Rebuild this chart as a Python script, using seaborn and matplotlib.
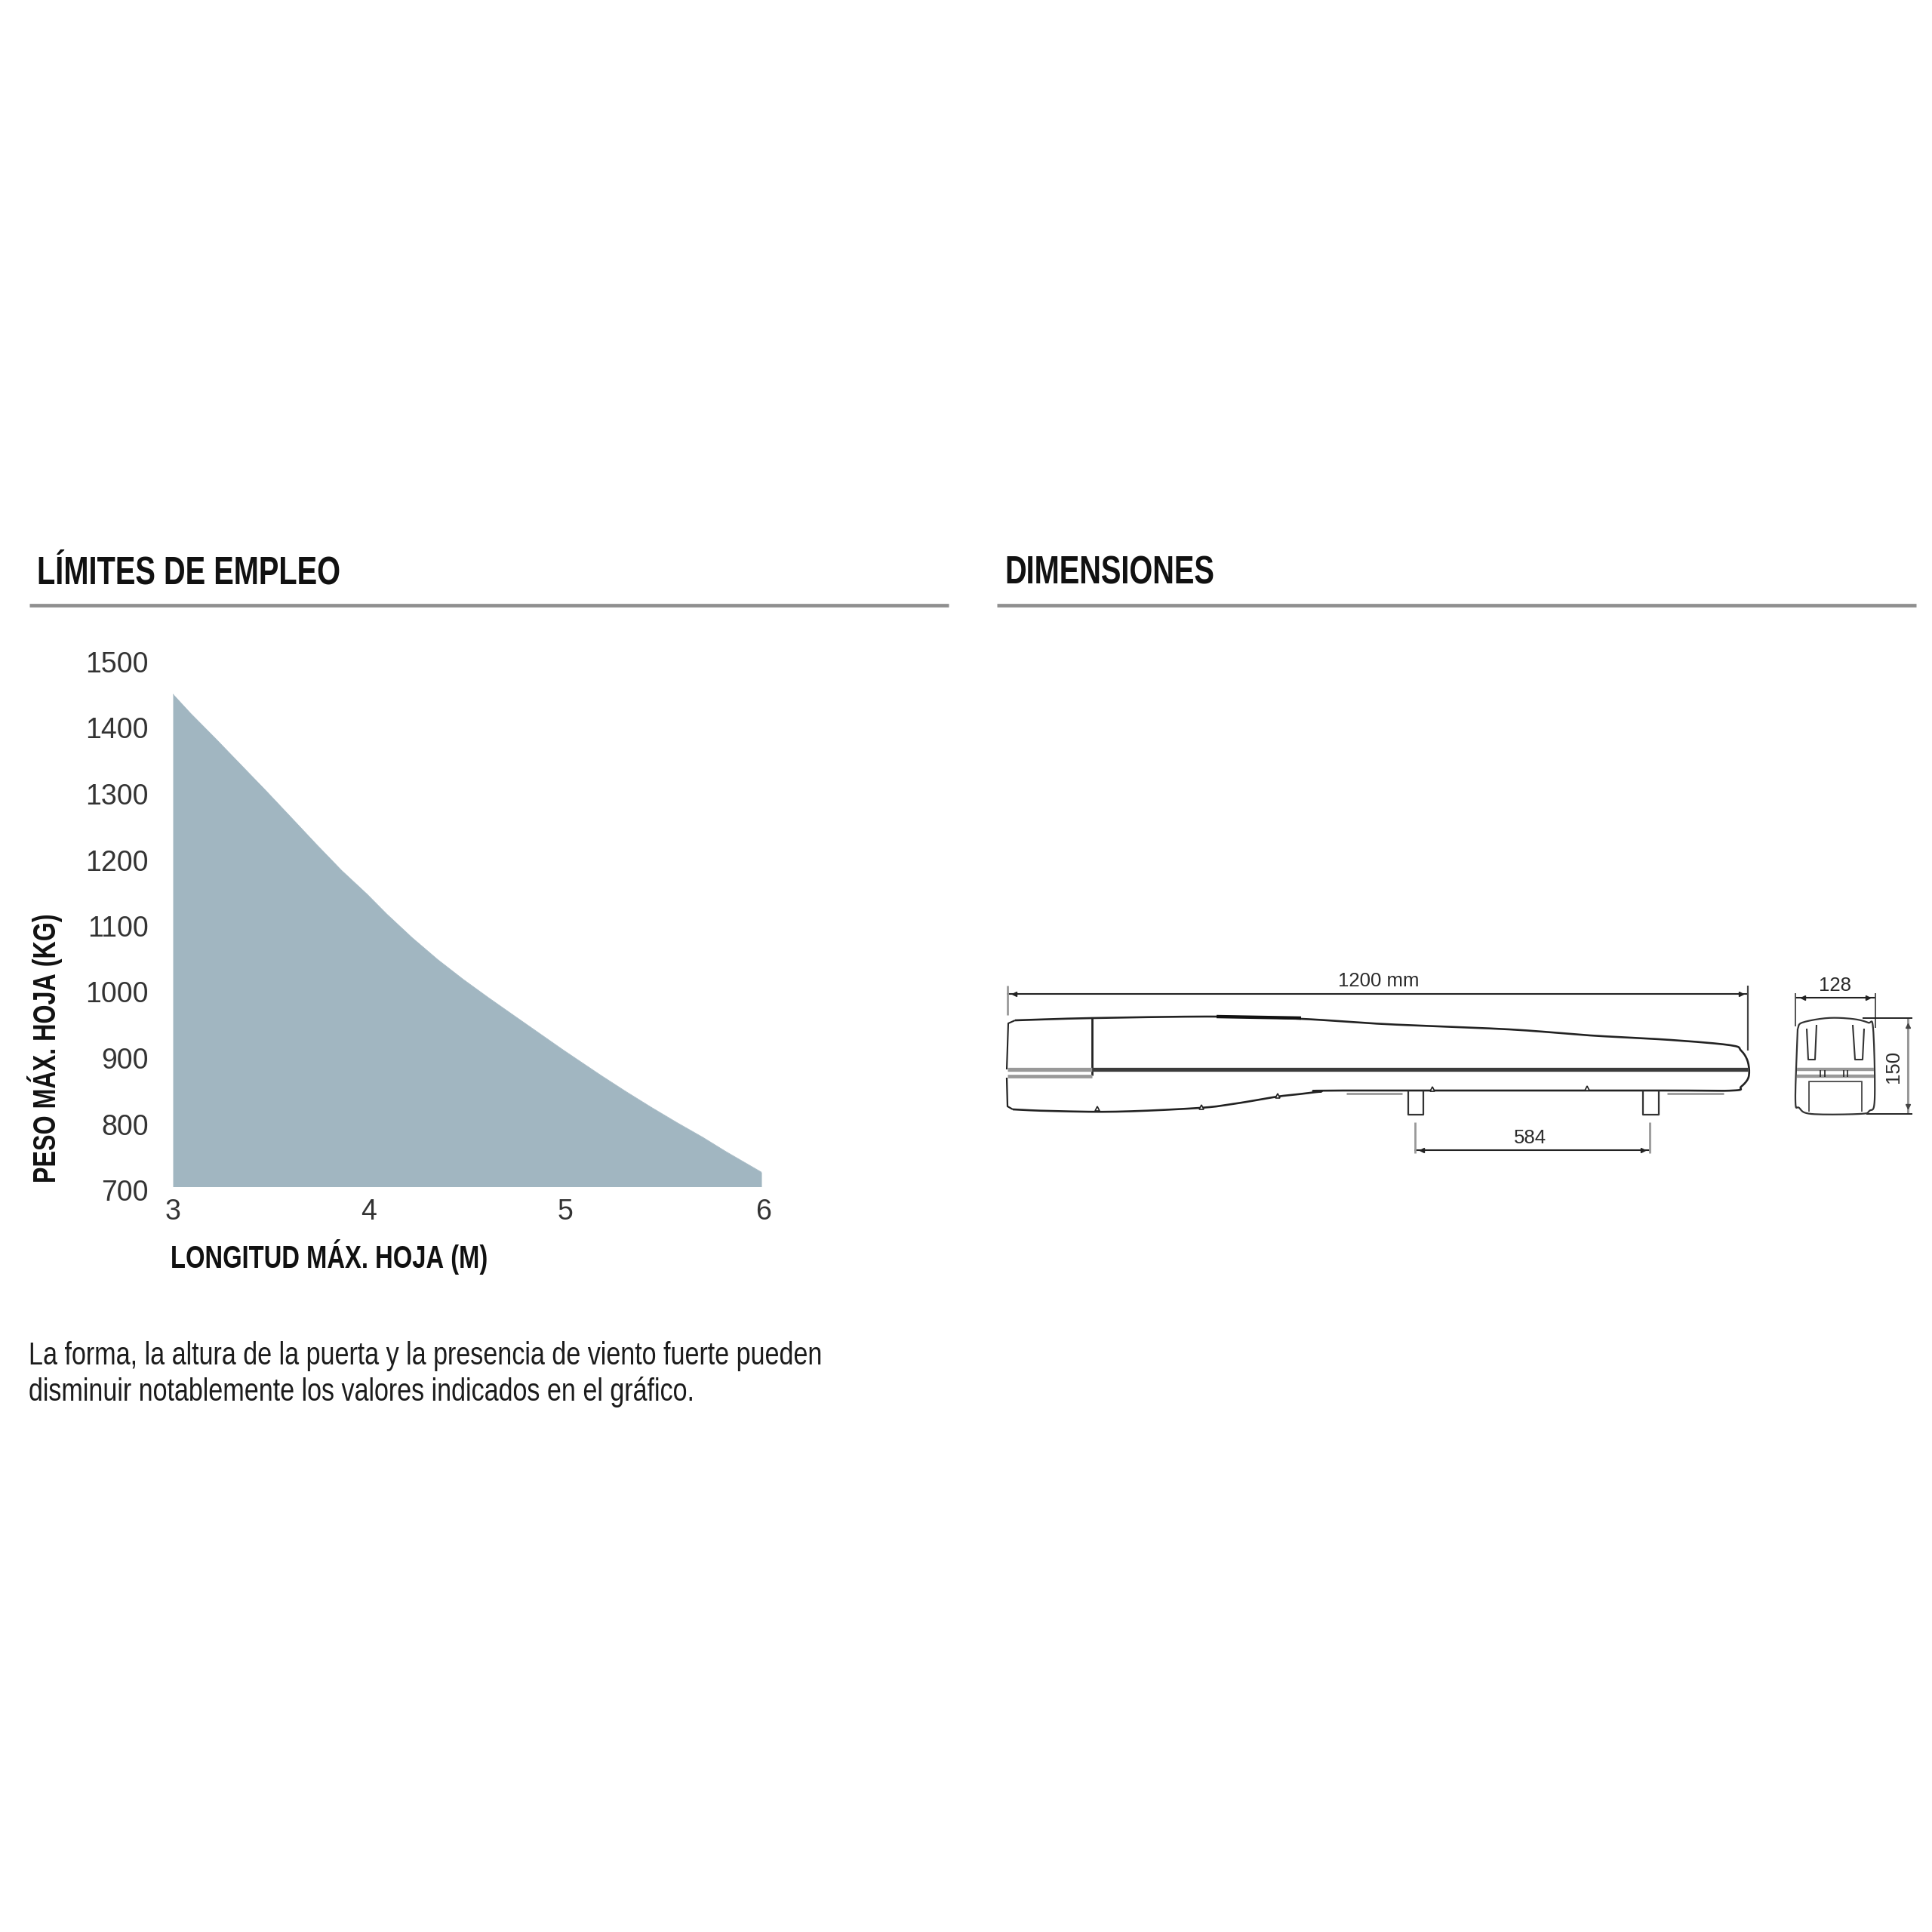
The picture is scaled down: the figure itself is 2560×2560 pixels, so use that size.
import os
import tempfile
import numpy as np
import pandas as pd
import seaborn as sns
import matplotlib
matplotlib.use("Agg")
import matplotlib.pyplot as plt
from matplotlib import font_manager as fm
from matplotlib.transforms import ScaledTranslation

# ---------- data ----------
length_m = [3, 3.09, 3.22, 3.35, 3.48, 3.61, 3.73, 3.86, 3.99, 4.09, 4.22, 4.35, 4.48, 4.61,
            4.73, 4.86, 4.99, 5.05, 5.18, 5.31, 5.44, 5.57, 5.70, 5.82, 6]
weight_kg = [1446, 1417, 1378, 1338, 1298, 1257, 1219, 1179, 1143, 1113, 1077, 1044, 1014, 986,
             961, 934, 907, 895, 869, 844, 820, 797, 775, 753, 722]
y_ticks = [700, 800, 900, 1000, 1100, 1200, 1300, 1400, 1500]
x_ticks = [3, 4, 5, 6]
title_left = "LÍMITES DE EMPLEO"
title_right = "DIMENSIONES"
x_label = "LONGITUD MÁX. HOJA (M)"
y_label = "PESO MÁX. HOJA (KG)"
note_lines = ["La forma, la altura de la puerta y la presencia de viento fuerte pueden",
              "disminuir notablemente los valores indicados en el gráfico."]
fill_col = "#a1b6c1"

# technical drawing outline (image pixels)
body = [(1345, 1352), (1447, 1349), (1612, 1347), (1724, 1350), (1836, 1357), (2000, 1364),
        (2107, 1372), (2214, 1378), (2293, 1385), (2307, 1392), (2316, 1407), (2317, 1427), (2307, 1440),
        (2296, 1445), (2200, 1445), (1780, 1445), (1750, 1446.5), (1724, 1449.5), (1693, 1453), (1639, 1462),
        (1590, 1468), (1479, 1473), (1389, 1472), (1342, 1470)]
body_left = [(1342, 1470), (1335, 1466), (1334, 1428)]
body_left_up = [(1345, 1352), (1336, 1356), (1334, 1417)]
end_outline = [(2382, 1363), (2388, 1355), (2421, 1349), (2454, 1350), (2475, 1355), (2482, 1363), (2484, 1457),
               (2477, 1472), (2464, 1476), (2400, 1476), (2384, 1468), (2379, 1457), (2382, 1363)]
slots = [[(2394, 1363), (2396, 1404), (2405, 1404), (2407, 1358)],
         [(2455, 1358), (2458, 1404), (2468, 1404), (2470, 1363)]]
inner_box = [(2397, 1473), (2397, 1433), (2467, 1433), (2467, 1473)]
feet = [[(1866, 1445), (1866, 1477), (1886, 1477), (1886, 1445)],
        [(2177, 1445), (2177, 1477), (2198, 1477), (2198, 1445)]]
bumps = [(1454, 1469), (1592, 1467), (1693, 1452), (1898, 1443), (2103, 1442)]

sns.set_theme(style="white")


def condensed(weight, scale, family_name):
    """A horizontally narrowed copy of Liberation Sans, for the DIN-like headings."""
    try:
        from fontTools.ttLib import TTFont
        from fontTools.ttLib.tables._g_l_y_f import GlyphCoordinates
        path = fm.findfont(fm.FontProperties(family="Liberation Sans", weight=weight))
        font = TTFont(path)
        glyf = font["glyf"]
        for name in glyf.keys():
            g = glyf[name]
            if g.isComposite():
                for c in g.components:
                    c.x = int(round(c.x * scale))
            elif g.numberOfContours > 0:
                g.coordinates = GlyphCoordinates([(int(round(x * scale)), y) for x, y in g.coordinates])
            g.removeHinting() if hasattr(g, "removeHinting") else None
        hmtx = font["hmtx"]
        for name, (adv, lsb) in list(hmtx.metrics.items()):
            hmtx.metrics[name] = (int(round(adv * scale)), int(round(lsb * scale)))
        for tag in ("GPOS", "kern", "GSUB", "fpgm", "prep", "cvt ", "hdmx", "VDMX", "LTSH"):
            if tag in font:
                del font[tag]
        for rec in font["name"].names:
            if rec.nameID in (1, 4, 6, 16):
                rec.string = family_name
        out = os.path.join(tempfile.mkdtemp(), family_name + ".ttf")
        font.save(out)
        fm.fontManager.addfont(out)
        return [fm.FontProperties(fname=out).get_name(), "Liberation Sans", "DejaVu Sans"]
    except Exception as exc:  # keep the plot working with the plain family
        print("condensed font failed", exc)
        return ["Liberation Sans", "DejaVu Sans"]


cond_bold = condensed("bold", 0.775, "CondHeadBold")
cond_reg = condensed("normal", 0.805, "CondHeadRegular")
plain = ["Liberation Sans", "DejaVu Sans"]
plt.rcParams["font.family"] = plain

fig = plt.figure(figsize=(25.6, 25.6), dpi=100, facecolor="white")
W = H = 2560.0

# chart axes
L, R, B, T = 229, 1009, 1572.5, 872.5
ax = fig.add_axes([L / W, 1 - B / H, (R - L) / W, (B - T) / H])
df = pd.DataFrame({"length": length_m, "weight": weight_kg})
ax.fill_between(df["length"], 700, df["weight"], color=fill_col, lw=0)
sns.lineplot(data=df, x="length", y="weight", ax=ax, color=fill_col, lw=0.6)
ax.set_xlim(3, 6)
ax.set_ylim(700, 1500)
ax.set_xticks(x_ticks)
ax.set_yticks(y_ticks)
sns.despine(ax=ax, left=True, bottom=True, top=True, right=True)
ax.tick_params(length=0, labelsize=27, labelcolor="#333333", pad=0)
ax.tick_params(axis="y", pad=23)
ax.tick_params(axis="x", pad=11)
px = fig.dpi_scale_trans
for t in ax.get_yticklabels():
    t.set_transform(t.get_transform() + ScaledTranslation(0, -4.5 / 100, px))
last = ax.get_xticklabels()[-1]
last.set_transform(last.get_transform() + ScaledTranslation(3 / 100, 0, px))
ax.set_xlabel("")
ax.set_ylabel("")

# overlay in image pixels
ov = fig.add_axes([0, 0, 1, 1], zorder=5)
ov.set_xlim(0, W)
ov.set_ylim(H, 0)
ov.axis("off")
ov.patch.set_alpha(0)


def poly(pts, smooth=False, **kw):
    a = np.array(pts, dtype=float)
    if smooth:  # Catmull-Rom rounding of the drawn outline
        q = np.vstack([2 * a[0] - a[1], a, 2 * a[-1] - a[-2]])
        t = np.linspace(0, 1, 12)[:, None]
        seg = []
        for i in range(1, len(q) - 2):
            p0, p1, p2, p3 = q[i - 1], q[i], q[i + 1], q[i + 2]
            seg.append(0.5 * (2 * p1 + (p2 - p0) * t + (2 * p0 - 5 * p1 + 4 * p2 - p3) * t ** 2
                              + (3 * p1 - p0 - 3 * p2 + p3) * t ** 3))
        a = np.vstack(seg)
    ov.plot(a[:, 0], a[:, 1], solid_joinstyle="round", solid_capstyle="butt", **kw)


# headings and rules
for x0, x1, s, tx in [(39, 1257, title_left, 49), (1321, 2539, title_right, 1331)]:
    ov.plot([x0, x1], [802, 802], color="#8f8f8f", lw=3.4, solid_capstyle="butt")
    ov.text(tx, 774, s, fontsize=37, fontweight="normal", family=cond_bold, color="#111111", va="baseline", ha="left")
ov.text(226, 1680, x_label, fontsize=30.4, family=cond_bold, color="#111111", va="baseline", ha="left")
ov.text(74, 1389, y_label, fontsize=30, family=cond_bold, color="#111111", va="baseline", ha="center",
        rotation=90, rotation_mode="anchor")
for y, s in zip([1808, 1856], note_lines):
    ov.text(38, y, s, fontsize=30.5, family=cond_reg, color="#1c1c1c", va="baseline", ha="left")

dk = "#222222"
gr = "#999999"
# side view
poly(body, smooth=True, color=dk, lw=1.9)
poly(body_left, color=dk, lw=1.6)
poly(body_left_up, color=dk, lw=1.5)
poly([(1612, 1347), (1724, 1349)], color="#111111", lw=3.2)
poly([(1447, 1349), (1447, 1425)], color=dk, lw=2)
poly([(1335, 1417), (1447, 1417)], color=gr, lw=3.8)
poly([(1335, 1426), (1447, 1426)], color=gr, lw=3.4)
poly([(1447, 1417), (2316, 1417)], color="#3c3c3c", lw=3.8)
poly([(1784, 1449), (1858, 1449)], color=gr, lw=2)
poly([(2209, 1449), (2284, 1449)], color=gr, lw=2)
for f in feet:
    poly(f, color="#333333", lw=1.6)
a = np.array(bumps)
ov.plot(a[:, 0], a[:, 1], ls="", marker="^", ms=5, mfc="white", mec=dk, mew=1.2)


# dimension lines
def dim_h(x0, x1, y, col=dk):
    ov.plot([x0, x1], [y, y], color=col, lw=1.5)
    ov.plot([x0 + 9], [y], marker="<", ms=4.5, color=col)
    ov.plot([x1 - 9], [y], marker=">", ms=4.5, color=col)


dim_h(1335, 2316, 1317)
poly([(1335, 1306), (1335, 1345)], color=gr, lw=2)
poly([(2316, 1306), (2316, 1392)], color="#444444", lw=1.6)
dim_h(1875, 2186, 1524)
poly([(1875, 1487), (1875, 1528)], color=gr, lw=2)
poly([(2186, 1487), (2186, 1528)], color=gr, lw=2)
dim_h(2380, 2484, 1322)
poly([(2379, 1316), (2379, 1360)], color="#444444", lw=1.3)
poly([(2485, 1316), (2485, 1362)], color="#444444", lw=1.3)
poly([(2528, 1349), (2528, 1476)], color=gr, lw=2.2)
ov.plot([2528], [1359], marker="^", ms=4, color="#444444")
ov.plot([2528], [1466], marker="v", ms=4, color="#444444")
poly([(2468, 1349), (2534, 1349)], color=dk, lw=1.4)
poly([(2473, 1476), (2534, 1476)], color=dk, lw=1.4)

# end view
poly(end_outline, smooth=True, color="#333333", lw=1.6)
for s in slots:
    poly(s, color="#333333", lw=1.5)
poly(inner_box, color="#555555", lw=1.4)
poly([(2381, 1417), (2483, 1417)], color=gr, lw=3.2)
poly([(2381, 1426), (2483, 1426)], color=gr, lw=3.2)
for x in [2412, 2418, 2443, 2448]:
    poly([(x, 1418), (x, 1427)], color=dk, lw=1.2)

for x, y, s, rot in [(1827, 1300, "1200 mm", 0), (2027, 1508, "584", 0), (2432, 1306, "128", 0), (2509, 1413, "150", 90)]:
    ov.text(x, y, s, fontsize=18.5, color="#2a2a2a", ha="center", va="center", rotation=rot)

fig.savefig("out.png", dpi=100, facecolor="white")
